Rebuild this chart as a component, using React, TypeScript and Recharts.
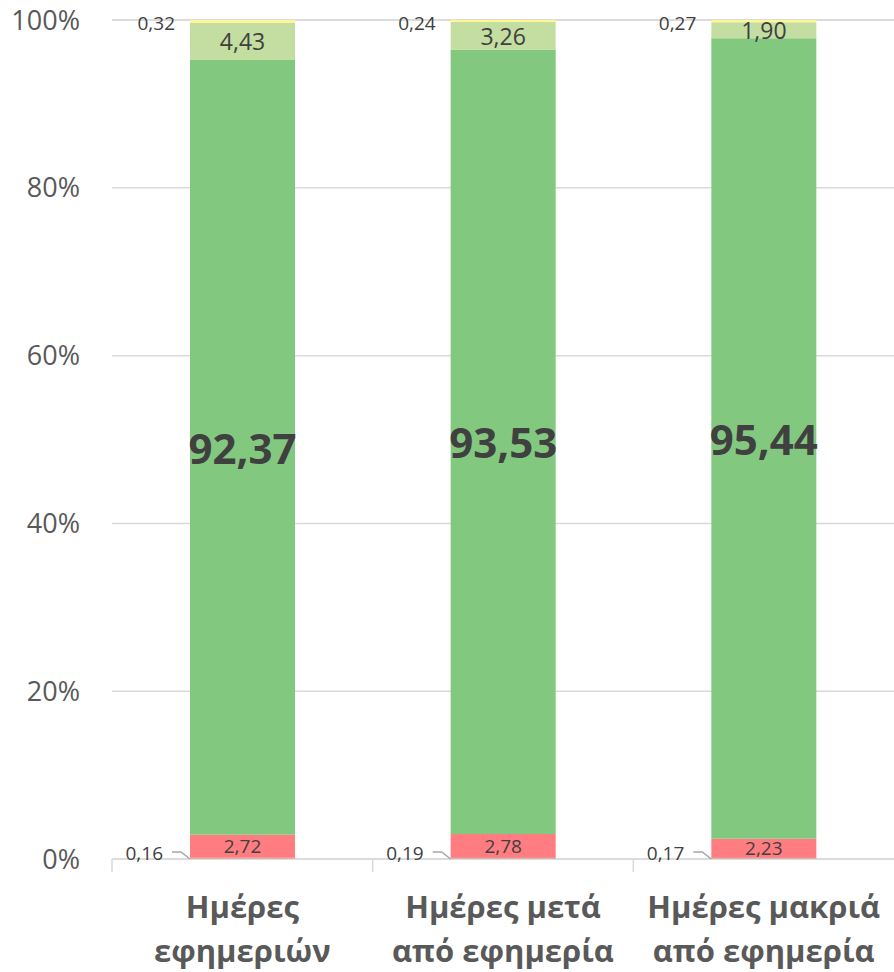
import React from 'react';
import {Bar, BarChart, CartesianGrid, LabelList, XAxis, YAxis} from 'recharts';

// κατανομή ανά τύπο ημέρας (%)
const categories = ['Ημέρες\nεφημεριών', 'Ημέρες μετά\nαπό εφημερία', 'Ημέρες μακριά\nαπό εφημερία'];
const severe = [0.16, 0.19, 0.17];
const red = [2.72, 2.78, 2.23];
const green = [92.37, 93.53, 95.44];
const lightGreen = [4.43, 3.26, 1.9];
const yellow = [0.32, 0.24, 0.27];
const yTicks = [0, 20, 40, 60, 80, 100];

const data = categories.map((name, i) => ({
  name,
  severe: severe[i],
  red: red[i],
  green: green[i],
  lightGreen: lightGreen[i],
  yellow: yellow[i],
}));

const W = 894;
const H = 972;
const Y_AXIS_W = 112;
const FONT = '"Open Sans", "Noto Sans", sans-serif';
const BAND = (W - Y_AXIS_W) / categories.length;

const fmt = (v: number) => v.toFixed(2).replace('.', ',');

function XTick(props: any) {
  const {x, y, payload} = props;
  const lines = String(payload.value).split('\n');
  return (
    <g>
      <line x1={x - BAND / 2} x2={x - BAND / 2} y1={y} y2={y + 13} stroke="#D9D9D9" strokeWidth={1.5} />
      {lines.map((l, i) => (
        <text
          key={i}
          x={x}
          y={y + 59 + i * 44}
          textAnchor="middle"
          fill="#595959"
          fontFamily={FONT}
          fontWeight="bold"
          fontSize={31}
        >
          {l}
        </text>
      ))}
    </g>
  );
}

function centerLabel(values: number[], size: number, bold = false) {
  return (props: any) => {
    const {x, y, width, height, index} = props;
    return (
      <text
        x={x + width / 2}
        y={y + height / 2}
        textAnchor="middle"
        dominantBaseline="central"
        fill="#404040"
        fontFamily={FONT}
        fontWeight={bold ? 'bold' : 'normal'}
        fontSize={size}
      >
        {fmt(values[index])}
      </text>
    );
  };
}

function severeLabel(props: any) {
  const {x, y, height, index} = props;
  const bottom = y + height;
  return (
    <g>
      <polyline
        points={`${x - 18},${bottom - 7} ${x - 9},${bottom - 7} ${x},${bottom}`}
        fill="none"
        stroke="#A6A6A6"
        strokeWidth={1.5}
      />
      <text
        x={x - 27}
        y={bottom - 6}
        textAnchor="end"
        dominantBaseline="central"
        fill="#404040"
        fontFamily={FONT}
        fontSize={19}
      >
        {fmt(severe[index])}
      </text>
    </g>
  );
}

function yellowLabel(props: any) {
  const {x, y, height, index} = props;
  return (
    <text
      x={x - 15}
      y={y + height / 2 + 2}
      textAnchor="end"
      dominantBaseline="central"
      fill="#404040"
      fontFamily={FONT}
      fontSize={19}
    >
      {fmt(yellow[index])}
    </text>
  );
}

export default function App() {
  return (
    <div style={{position: 'absolute', left: 0, top: 0, width: W, height: H, background: '#fff'}}>
      <BarChart width={W} height={H} data={data} margin={{top: 20, right: 0, left: 0, bottom: 0}}>
        <CartesianGrid vertical={false} stroke="#D9D9D9" strokeWidth={1.5} />
        <XAxis
          dataKey="name"
          height={113}
          axisLine={{stroke: '#D9D9D9', strokeWidth: 1.5}}
          tickLine={false}
          tickSize={0}
          tickMargin={0}
          tick={<XTick />}
          interval={0}
        />
        <YAxis
          width={Y_AXIS_W}
          domain={[0, 100]}
          ticks={yTicks}
          tickFormatter={(v) => `${v}%`}
          axisLine={false}
          tickLine={false}
          tickSize={0}
          tickMargin={32}
          tick={{fill: '#595959', fontSize: 27, fontFamily: FONT}}
        />
        <Bar dataKey="severe" stackId="a" fill="#D9403D" barSize={105} isAnimationActive={false}>
          <LabelList content={severeLabel} />
        </Bar>
        <Bar dataKey="red" stackId="a" fill="#FF7C80" barSize={105} isAnimationActive={false}>
          <LabelList content={centerLabel(red, 19)} />
        </Bar>
        <Bar dataKey="green" stackId="a" fill="#82C97F" barSize={105} isAnimationActive={false}>
          <LabelList content={centerLabel(green, 42, true)} />
        </Bar>
        <Bar dataKey="lightGreen" stackId="a" fill="#C3DEA0" barSize={105} isAnimationActive={false}>
          <LabelList content={centerLabel(lightGreen, 23)} />
        </Bar>
        <Bar dataKey="yellow" stackId="a" fill="#FFF68F" barSize={105} isAnimationActive={false}>
          <LabelList content={yellowLabel} />
        </Bar>
      </BarChart>
    </div>
  );
}
